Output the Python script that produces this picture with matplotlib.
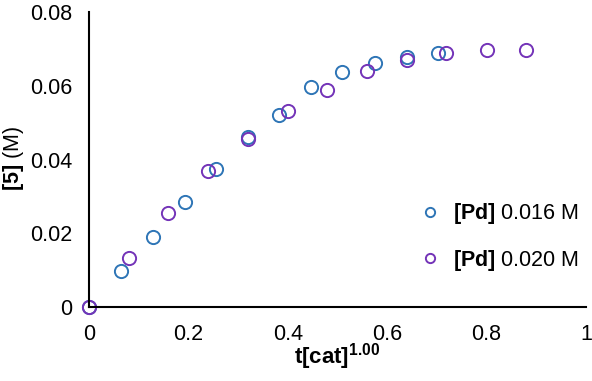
import matplotlib
matplotlib.use('Agg')
import matplotlib.pyplot as plt

plt.rcParams['font.family'] = ['Liberation Sans', 'DejaVu Sans']
plt.rcParams['mathtext.fontset'] = 'custom'
plt.rcParams['mathtext.rm'] = 'Liberation Sans'
plt.rcParams['mathtext.bf'] = 'Liberation Sans:bold'

# data
x_016 = [0.0, 0.064, 0.128, 0.1925, 0.2555, 0.3206, 0.383, 0.447, 0.510, 0.576, 0.639, 0.703]
y_016 = [0.0, 0.0098, 0.0189, 0.0286, 0.0373, 0.0460, 0.0522, 0.0596, 0.0636, 0.0663, 0.0677, 0.0688]
x_020 = [0.0, 0.0798, 0.1597, 0.2394, 0.3206, 0.3997, 0.479, 0.560, 0.639, 0.719, 0.800, 0.879]
y_020 = [0.0, 0.0133, 0.0256, 0.0369, 0.0456, 0.0532, 0.0588, 0.0641, 0.0670, 0.0688, 0.0697, 0.0697]

labels = [r'$\mathbf{[Pd]}$ 0.016 M', r'$\mathbf{[Pd]}$ 0.020 M']
colors = ['#2E75B6', '#7434B8']

fig = plt.figure(figsize=(5.92, 3.81), dpi=100)
ax = fig.add_axes([0.1503, 0.1942, 0.9899 - 0.1503, 0.9685 - 0.1942])

ax.plot(x_016, y_016, 'o', mfc='none', mec=colors[0], mew=1.4, ms=9.5, label=labels[0], clip_on=False)
ax.plot(x_020, y_020, 'o', mfc='none', mec=colors[1], mew=1.4, ms=9.5, label=labels[1], clip_on=False)

ax.set_xlim(0, 1)
ax.set_ylim(0, 0.08)
ax.set_xticks([0, 0.2, 0.4, 0.6, 0.8, 1])
ax.set_xticklabels(['0', '0.2', '0.4', '0.6', '0.8', '1'])
ax.set_yticks([0, 0.02, 0.04, 0.06, 0.08])
ax.set_yticklabels(['0', '0.02', '0.04', '0.06', '0.08'])
ax.tick_params(length=0, labelsize=15.5, pad=12)

for s in ['top', 'right']:
    ax.spines[s].set_visible(False)
for s in ['left', 'bottom']:
    ax.spines[s].set_linewidth(1.5)
    ax.spines[s].set_color('black')

ax.set_xlabel(r'$\mathbf{t[cat]^{1.00}}$', fontsize=16)
ax.set_ylabel(r'$\mathbf{[5]}$ (M)', fontsize=15.5)
ax.xaxis.set_label_coords(0.5, -0.115)
ax.yaxis.set_label_coords(-0.127, 0.505)

ax.legend(loc='center left', bbox_to_anchor=(0.625, 0.237), frameon=False,
          fontsize=15.5, markerscale=0.7, labelspacing=1.0, handletextpad=0.6,
          handlelength=1.0)

plt.savefig('out.png', dpi=100)
